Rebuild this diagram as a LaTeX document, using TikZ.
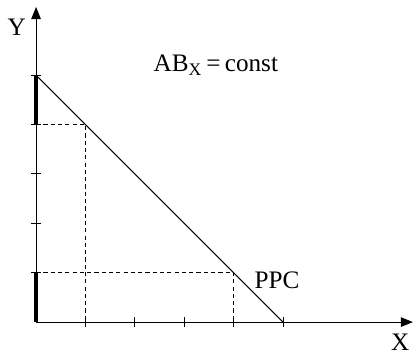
\documentclass[tikz,border=0pt]{standalone}
\usepackage{fontspec}
\setmainfont{Liberation Serif}
\usetikzlibrary{arrows.meta, positioning}

\begin{document}
\begin{tikzpicture}[x=1cm,y=1cm,
    axis/.style={line width=0.6pt, -{Triangle[length=7pt,width=5.5pt]}},
    guide/.style={line width=0.5pt, dash pattern=on 2.4pt off 1.8pt},
    share/.style={line width=2.4pt},
    lbl/.style={font=\fontsize{14.5}{16}\selectfont, inner sep=0pt}]
      \useasboundingbox (-0.73,-0.63) rectangle (7.63,6.52);
      % axes
      \coordinate (O) at (0,0);
      \coordinate (xend) at (7.63,0);
      \coordinate (yend) at (0,6.38);
      \draw[axis] (O) -- (xend);
      \draw[axis] (O) -- (yend);
      \node[lbl] (ylab) at (-0.39,5.96) {Y};
      \node[lbl, anchor=base] (xlab) at (7.37,-0.57) {X};

      % ticks
      \foreach \i in {1,...,5}{
        \draw[line width=0.6pt] (\i,-0.1) -- (\i,0.1);
        \draw[line width=0.6pt] (-0.1,\i) -- (0.1,\i);
      }

      % thick parts on the Y axis
      \draw[share] (0,4) -- (0,5);
      \draw[share] (0,0) -- (0,1);

      % PPC
      \coordinate (top) at (0,5);
      \coordinate (bot) at (5,0);
      \draw[line width=0.6pt] (top) -- (bot);
      \node[lbl] (ppc) at (4.88,0.85) {PPC};

      % dashed guides
      \coordinate (pa) at (1,4);
      \coordinate (pb) at (4,1);
      \draw[guide] (0,4) -- (pa) -- (1,0);
      \draw[guide] (0,1) -- (pb) -- (4,0);

      \node[lbl] (ab) at (3.64,5.2) {AB\textsubscript{X}\,=\,const};
\end{tikzpicture}
\end{document}
